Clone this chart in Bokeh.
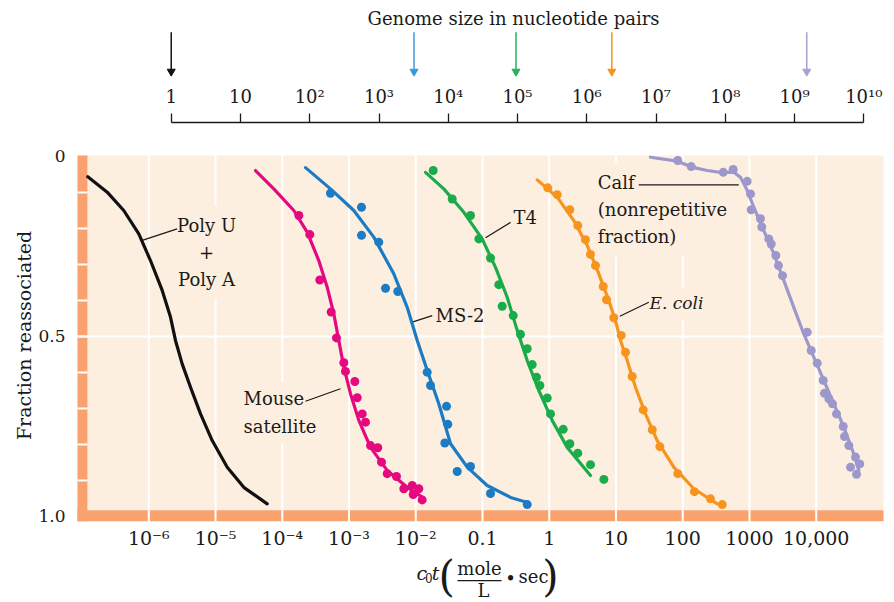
import numpy as np
from bokeh.plotting import figure
from bokeh.models import (Range1d, LogScale, LogAxis, LinearAxis, FixedTicker,
                          BoxAnnotation, Label)
from bokeh.embed import file_html
from bokeh.resources import INLINE

# ---------------- data ----------------
c0t_ticks = [1e-6, 1e-5, 1e-4, 1e-3, 1e-2, 0.1, 1, 10, 100, 1000, 1e4]
c0t_tick_labels = ["10⁻⁶", "10⁻⁵", "10⁻⁴", "10⁻³", "10⁻²", "0.1", "1", "10",
                   "100", "1000", "10,000"]
fraction_ticks = [0, 0.5, 1.0]
fraction_tick_labels = ["0", "0.5", "1.0"]
fraction_minor = [0.1, 0.2, 0.3, 0.4, 0.5, 0.6, 0.7, 0.8, 0.9]
genome_ticks = [1, 1e1, 1e2, 1e3, 1e4, 1e5, 1e6, 1e7, 1e8, 1e9, 1e10]
genome_tick_labels = ["1", "10", "10²", "10³", "10⁴", "10⁵", "10⁶", "10⁷",
                      "10⁸", "10⁹", "10¹⁰"]
genome_names = ["Poly U + Poly A", "MS-2", "T4", "E. coli", "Calf"]
genome_sizes = [1.0, 3.2e3, 9.5e4, 2.3e6, 1.5e9]

# fitted curves: log10(c0t) and fraction reassociated
poly_curve_log = [-6.914, -6.623, -6.375, -6.150, -5.975, -5.799, -5.675, -5.600,
                  -5.500, -5.375, -5.225, -5.050, -4.825, -4.577, -4.226]
poly_curve_f = [0.056, 0.099, 0.150, 0.215, 0.289, 0.372, 0.446, 0.511,
                0.576, 0.641, 0.715, 0.789, 0.863, 0.919, 0.965]

mouse_curve_log = [-4.401, -4.127, -3.827, -3.627, -3.453, -3.327, -3.228, -3.153,
                   -3.078, -2.978, -2.853, -2.678, -2.428, -2.128, -1.903]
mouse_curve_f = [0.039, 0.090, 0.150, 0.210, 0.289, 0.363, 0.437, 0.511,
                 0.585, 0.659, 0.733, 0.808, 0.872, 0.919, 0.946]
mouse_pts_log = [-3.752, -3.588, -3.438, -3.267, -3.188, -3.078, -3.053, -2.913,
                 -2.877, -2.802, -2.753, -2.678, -2.569, -2.513, -2.428, -2.289,
                 -2.179, -2.053, -1.954, -2.038, -1.904]
mouse_pts_f = [0.164, 0.217, 0.343, 0.432, 0.504, 0.573, 0.597, 0.625,
               0.670, 0.715, 0.738, 0.803, 0.809, 0.849, 0.881, 0.889,
               0.923, 0.914, 0.923, 0.939, 0.954]

ms2_curve_log = [-3.652, -3.278, -2.928, -2.629, -2.329, -2.128, -1.978, -1.829,
                 -1.655, -1.479, -1.229, -0.930, -0.580, -0.326]
ms2_curve_f = [0.031, 0.090, 0.150, 0.224, 0.326, 0.419, 0.511, 0.594,
               0.687, 0.798, 0.863, 0.914, 0.947, 0.961]
ms2_pts_log = [-3.278, -2.813, -2.813, -2.554, -2.453, -2.269, -1.829, -1.779,
               -1.539, -1.520, -1.565, -1.379, -1.180, -0.880, -0.330]
ms2_pts_f = [0.102, 0.141, 0.219, 0.238, 0.366, 0.375, 0.599, 0.636,
             0.694, 0.744, 0.796, 0.875, 0.861, 0.936, 0.967]

t4_curve_log = [-1.854, -1.580, -1.280, -1.005, -0.805, -0.630, -0.480, -0.330,
                -0.156, 0.044, 0.269, 0.618]
t4_curve_f = [0.044, 0.090, 0.155, 0.229, 0.308, 0.391, 0.483, 0.567,
              0.650, 0.733, 0.808, 0.886]
t4_pts_log = [-1.739, -1.454, -1.180, -1.055, -0.880, -0.756, -0.705, -0.540,
              -0.431, -0.330, -0.255, -0.191, -0.141, -0.030, 0.019, 0.209,
              0.308, 0.428, 0.618, 0.818]
t4_pts_f = [0.039, 0.118, 0.164, 0.229, 0.282, 0.356, 0.416, 0.442,
            0.494, 0.534, 0.578, 0.613, 0.636, 0.671, 0.715, 0.758,
            0.798, 0.824, 0.856, 0.897]

ecoli_curve_log = [-0.180, 0.119, 0.368, 0.569, 0.743, 0.892, 0.992, 1.068,
                   1.168, 1.292, 1.442, 1.618, 1.866, 2.166, 2.517]
ecoli_curve_f = [0.065, 0.113, 0.178, 0.247, 0.326, 0.400, 0.456, 0.511,
                 0.567, 0.641, 0.715, 0.789, 0.863, 0.923, 0.965]
ecoli_pts_log = [-0.022, 0.119, 0.308, 0.428, 0.543, 0.618, 0.693, 0.809,
                 0.858, 0.967, 1.078, 1.143, 1.243, 1.408, 1.543, 1.657,
                 1.926, 2.176, 2.416, 2.592]
ecoli_pts_f = [0.087, 0.106, 0.148, 0.192, 0.231, 0.272, 0.303, 0.361,
               0.398, 0.448, 0.497, 0.544, 0.611, 0.704, 0.759, 0.806,
               0.881, 0.931, 0.951, 0.967]

calf_curve_log = [1.517, 1.917, 2.166, 2.367, 2.566, 2.765, 2.866, 2.966,
                  3.065, 3.215, 3.365, 3.514, 3.664, 3.814, 3.964, 4.114,
                  4.264, 4.414, 4.563, 4.638]
calf_curve_f = [0.002, 0.013, 0.031, 0.039, 0.044, 0.044, 0.058, 0.094,
                0.141, 0.206, 0.270, 0.344, 0.419, 0.493, 0.557, 0.622,
                0.687, 0.752, 0.826, 0.872]
calf_pts_log = [1.926, 2.127, 2.607, 2.756, 2.966, 3.016, 3.026, 3.165,
                3.185, 3.290, 3.326, 3.395, 3.435, 3.495, 3.865, 3.925,
                4.015, 4.105, 4.124, 4.189, 4.244, 4.304, 4.405, 4.424,
                4.489, 4.589, 4.653, 4.514, 4.604]
calf_pts_f = [0.011, 0.028, 0.044, 0.036, 0.069, 0.104, 0.148, 0.173,
              0.196, 0.229, 0.243, 0.275, 0.303, 0.331, 0.488, 0.539,
              0.574, 0.622, 0.658, 0.673, 0.687, 0.715, 0.750, 0.778,
              0.803, 0.835, 0.854, 0.863, 0.883]

# ---------------- style ----------------
FONT = "DejaVu Serif"
INK = "#1a1a1a"
CREAM = "#fdefdf"
BAND = "#f9a26f"
C_BLACK = "#111111"
C_MAG = "#e5097f"
C_BLUE = "#1b7bc4"
C_GREEN = "#1aab4b"
C_ORANGE = "#f7941d"
C_PURPLE = "#9c98cc"
arrow_colors = ["#111111", "#3a9bdc", "#27b35a", "#f7941d", "#a5a1d3"]

X_LO, X_HI = 10 ** -8.222, 10 ** 5.173
BAND_L, BAND_R, PLOT_R = 10 ** -7.069, 10 ** -6.919, 10 ** 5.008
TOP, CREAM_B, BAND_B = -0.003, 0.983, 1.013

p = figure(width=894, height=602, x_axis_type="log",
           x_range=Range1d(X_LO, X_HI), y_range=Range1d(1.2389, -0.4333),
           x_axis_location=None, y_axis_location=None,
           toolbar_location=None, output_backend="svg", min_border=0,
           background_fill_color="white", border_fill_color="white",
           outline_line_color=None)
p.grid.visible = False
p.extra_x_ranges = {"genome": Range1d(10 ** -2.465, 10 ** 10.443)}
p.extra_x_scales = {"genome": LogScale()}

# background: cream field with orange frame bands
p.add_layout(BoxAnnotation(left=BAND_R, right=PLOT_R, top=TOP, bottom=CREAM_B,
                           fill_color=CREAM, fill_alpha=1, line_color=None, level="image"))
p.add_layout(BoxAnnotation(left=BAND_L, right=BAND_R, top=TOP, bottom=BAND_B,
                           fill_color=BAND, fill_alpha=1, line_color=None, level="image"))
p.add_layout(BoxAnnotation(left=BAND_L, right=PLOT_R, top=CREAM_B, bottom=BAND_B,
                           fill_color=BAND, fill_alpha=1, line_color=None, level="image"))

# white grid lines
p.segment(x0=c0t_ticks, y0=[TOP] * len(c0t_ticks), x1=c0t_ticks, y1=[BAND_B] * len(c0t_ticks),
          line_color="white", line_width=2, level="underlay")
p.segment(x0=[BAND_L] * len(fraction_minor), y0=fraction_minor,
          x1=[BAND_R] * len(fraction_minor), y1=fraction_minor,
          line_color="white", line_width=2, level="underlay")
p.segment(x0=[BAND_L], y0=[0.5], x1=[PLOT_R], y1=[0.5],
          line_color="white", line_width=2, level="underlay")

# axes
bottom = LogAxis(ticker=FixedTicker(ticks=c0t_ticks), fixed_location=BAND_B,
                 axis_line_color=None, major_tick_in=0, major_tick_out=0,
                 minor_tick_in=0, minor_tick_out=0, major_label_standoff=6,
                 major_label_overrides=dict(zip(c0t_ticks, c0t_tick_labels)),
                 major_label_text_font=FONT, major_label_text_font_size="19px",
                 major_label_text_color=INK)
p.add_layout(bottom, "below")

left = LinearAxis(ticker=FixedTicker(ticks=fraction_ticks), fixed_location=BAND_L,
                  axis_line_color=None, major_tick_in=0, major_tick_out=0,
                  minor_tick_in=0, minor_tick_out=0, major_label_standoff=12,
                  major_label_overrides=dict(zip(fraction_ticks, fraction_tick_labels)),
                  major_label_text_font=FONT, major_label_text_font_size="17px",
                  major_label_text_color=INK)
p.add_layout(left, "left")

top = LogAxis(x_range_name="genome", ticker=FixedTicker(ticks=genome_ticks),
              fixed_location=-0.0953, bounds=(1, 1e10),
              axis_line_color=INK, axis_line_width=1.3,
              major_tick_line_color=INK, major_tick_line_width=1.3,
              major_tick_in=0, major_tick_out=9, minor_tick_in=0, minor_tick_out=0,
              major_label_standoff=6,
              major_label_overrides=dict(zip(genome_ticks, genome_tick_labels)),
              major_label_text_font=FONT, major_label_text_font_size="18px",
              major_label_text_color=INK)
p.add_layout(top, "above")

# genome size arrows
n_g = len(genome_sizes)
p.segment(x0=genome_sizes, y0=[-0.345] * n_g, x1=genome_sizes, y1=[-0.235] * n_g,
          line_color=arrow_colors, line_width=1.5, x_range_name="genome")
p.scatter(x=genome_sizes, y=[-0.236] * n_g, marker="inverted_triangle", size=8,
          fill_color=arrow_colors, line_color=arrow_colors, x_range_name="genome")


def txt(x, y, text, size="18px", **kw):
    return Label(x=x, y=y, text=text, text_font=FONT, text_font_size=size,
                 text_color=INK, **kw)


# annotation labels (cream background hides grid lines)
lbl_kw = dict(background_fill_color=CREAM, level="underlay", text_baseline="middle",
              text_line_height=1.3)
p.add_layout(txt(10 ** -5.135, 0.267, "Poly U\n+\nPoly A", text_align="center",
                 padding=9, **lbl_kw))
p.add_layout(txt(10 ** -4.686, 0.711, "Mouse\nsatellite", text_align="left",
                 padding=7, **lbl_kw))
p.add_layout(txt(10 ** -1.704, 0.442, "MS-2", text_align="left", text_baseline="middle"))
p.add_layout(txt(10 ** -0.536, 0.169, "T4", text_align="left", text_baseline="middle"))
p.add_layout(txt(10 ** 1.412, 0.408, "E. coli", size="17px", text_align="left",
                 text_font_style="italic", padding=6, **lbl_kw))
p.add_layout(txt(10 ** 0.593, 0.147, "Calf\n(nonrepetitive\nfraction)", text_align="left",
                 padding=9, **lbl_kw))

# leader lines
lead_x0 = [10 ** -6.099, 10 ** -3.652, 10 ** -2.053, 10 ** -0.955, 10 ** 1.057, 10 ** 1.342]
lead_y0 = [0.233, 0.680, 0.460, 0.226, 0.444, 0.079]
lead_x1 = [10 ** -5.575, 10 ** -3.128, 10 ** -1.754, 10 ** -0.580, 10 ** 1.492, 10 ** 2.840]
lead_y1 = [0.201, 0.645, 0.442, 0.183, 0.405, 0.079]
p.segment(x0=lead_x0, y0=lead_y0, x1=lead_x1, y1=lead_y1, line_color=INK, line_width=1.2)

# curves and data points
series = [
    (poly_curve_log, poly_curve_f, None, None, C_BLACK),
    (mouse_curve_log, mouse_curve_f, mouse_pts_log, mouse_pts_f, C_MAG),
    (ms2_curve_log, ms2_curve_f, ms2_pts_log, ms2_pts_f, C_BLUE),
    (t4_curve_log, t4_curve_f, t4_pts_log, t4_pts_f, C_GREEN),
    (ecoli_curve_log, ecoli_curve_f, ecoli_pts_log, ecoli_pts_f, C_ORANGE),
    (calf_curve_log, calf_curve_f, calf_pts_log, calf_pts_f, C_PURPLE),
]
for clog, cf, plog, pf, col in series:
    p.line(x=10 ** np.array(clog), y=cf, line_color=col, line_width=3.2,
           line_cap="round", line_join="round")
    if plog is not None:
        p.scatter(x=10 ** np.array(plog), y=pf, size=9, fill_color=col, line_color=None)

# axis titles
p.add_layout(txt(10 ** -0.535, -0.383, "Genome size in nucleotide pairs", size="18px",
                 text_align="center", text_baseline="middle"))
p.add_layout(txt(10 ** -7.877, 0.497, "Fraction reassociated", size="19px",
                 text_align="center", text_baseline="middle", angle=np.pi / 2))
p.add_layout(txt(10 ** -1.988, 1.156, "c", size="19px", text_align="left",
                 text_baseline="middle", text_font_style="italic"))
p.add_layout(txt(10 ** -1.862, 1.170, "0", size="12px", text_align="left",
                 text_baseline="middle"))
p.add_layout(txt(10 ** -1.760, 1.156, "t", size="19px", text_align="left",
                 text_baseline="middle", text_font_style="italic"))
p.add_layout(txt(10 ** -1.537, 1.168, "(", size="42px", text_align="center",
                 text_baseline="middle"))
p.add_layout(txt(10 ** -1.045, 1.144, "mole", text_align="center", text_baseline="middle"))
p.segment(x0=[10 ** -1.374], y0=[1.178], x1=[10 ** -0.715], y1=[1.178],
          line_color=INK, line_width=1.2)
p.add_layout(txt(10 ** -0.985, 1.206, "L", text_align="center", text_baseline="middle"))
p.add_layout(txt(10 ** -0.580, 1.172, "•", text_align="center", text_baseline="middle"))
p.add_layout(txt(10 ** -0.460, 1.167, "sec", text_align="left", text_baseline="middle"))
p.add_layout(txt(10 ** 0.019, 1.168, ")", size="42px", text_align="center",
                 text_baseline="middle"))

open("out.html", "w").write(file_html(p, INLINE))
